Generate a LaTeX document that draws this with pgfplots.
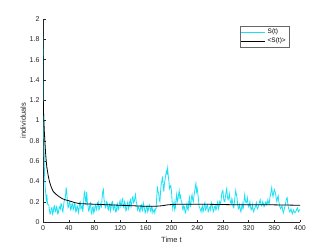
\documentclass[border=0pt]{standalone}
\usepackage{pgfplots}
\usepackage{pgfplotstable}
\pgfplotsset{compat=1.18}
\usepackage{fontspec}
\setmainfont{Liberation Sans}
\definecolor{scyan}{rgb}{0.1,0.88,0.96}
\definecolor{axgray}{rgb}{0.15,0.15,0.15}
\pgfplotstableread{
t s
0 1.83
1 1.0
2 0.55
3 0.38
4 0.3
5 0.22
6 0.27
7 0.18
8 0.17
9 0.17
10 0.12
11 0.08
12 0.09
13 0.14
14 0.14
15 0.08
16 0.1
17 0.15
18 0.16
19 0.1
20 0.11
21 0.15
22 0.13
23 0.08
24 0.09
25 0.14
26 0.15
27 0.13
28 0.18
29 0.17
30 0.12
31 0.1
32 0.16
33 0.21
34 0.22
35 0.25
36 0.34
37 0.29
38 0.2
39 0.14
40 0.15
41 0.2
42 0.19
43 0.12
44 0.13
45 0.18
46 0.18
47 0.12
48 0.14
49 0.18
50 0.17
51 0.1
52 0.11
53 0.16
54 0.15
55 0.09
56 0.12
57 0.19
58 0.2
59 0.13
60 0.14
61 0.16
62 0.1
63 0.17
64 0.28
65 0.3
66 0.22
67 0.19
68 0.3
69 0.2
70 0.16
71 0.11
72 0.12
73 0.18
74 0.19
75 0.1
76 0.08
77 0.14
78 0.15
79 0.09
80 0.11
81 0.16
82 0.17
83 0.12
84 0.14
85 0.19
86 0.2
87 0.12
88 0.13
89 0.18
90 0.16
91 0.15
92 0.24
93 0.3
94 0.32
95 0.22
96 0.2
97 0.14
98 0.15
99 0.2
100 0.19
101 0.13
102 0.12
103 0.17
104 0.18
105 0.11
106 0.14
107 0.19
108 0.2
109 0.13
110 0.12
111 0.17
112 0.16
113 0.1
114 0.1
115 0.16
116 0.18
117 0.12
118 0.13
119 0.19
120 0.21
121 0.15
122 0.16
123 0.22
124 0.23
125 0.15
126 0.14
127 0.2
128 0.18
129 0.11
130 0.12
131 0.18
132 0.2
133 0.13
134 0.15
135 0.2
136 0.22
137 0.15
138 0.18
139 0.24
140 0.25
141 0.19
142 0.2
143 0.24
144 0.27
145 0.2
146 0.18
147 0.12
148 0.14
149 0.15
150 0.11
151 0.1
152 0.16
153 0.17
154 0.12
155 0.11
156 0.19
157 0.16
158 0.13
159 0.09
160 0.11
161 0.15
162 0.16
163 0.1
164 0.12
165 0.16
166 0.17
167 0.12
168 0.1
169 0.15
170 0.14
171 0.09
172 0.11
173 0.12
174 0.09
175 0.13
176 0.13
177 0.24
178 0.35
179 0.3
180 0.28
181 0.22
182 0.2
183 0.3
184 0.38
185 0.4
186 0.45
187 0.36
188 0.3
189 0.38
190 0.42
191 0.46
192 0.5
193 0.48
194 0.53
195 0.45
196 0.4
197 0.33
198 0.35
199 0.36
200 0.3
201 0.2
202 0.13
203 0.17
204 0.2
205 0.12
206 0.14
207 0.22
208 0.27
209 0.2
210 0.22
211 0.27
212 0.31
213 0.24
214 0.26
215 0.21
216 0.2
217 0.14
218 0.12
219 0.16
220 0.15
221 0.1
222 0.09
223 0.14
224 0.18
225 0.13
226 0.12
227 0.2
228 0.24
229 0.15
230 0.16
231 0.24
232 0.27
233 0.22
234 0.2
235 0.26
236 0.3
237 0.35
238 0.38
239 0.3
240 0.33
241 0.28
242 0.22
243 0.15
244 0.14
245 0.12
246 0.1
247 0.14
248 0.16
249 0.1
250 0.12
251 0.17
252 0.19
253 0.12
254 0.13
255 0.16
256 0.17
257 0.1
258 0.11
259 0.14
260 0.15
261 0.12
262 0.19
263 0.17
264 0.14
265 0.1
266 0.12
267 0.15
268 0.16
269 0.12
270 0.13
271 0.18
272 0.2
273 0.13
274 0.15
275 0.2
276 0.18
277 0.2
278 0.27
279 0.3
280 0.31
281 0.24
282 0.2
283 0.2
284 0.25
285 0.3
286 0.33
287 0.25
288 0.22
289 0.24
290 0.28
291 0.22
292 0.19
293 0.18
294 0.23
295 0.2
296 0.15
297 0.14
298 0.2
299 0.26
300 0.31
301 0.27
302 0.24
303 0.17
304 0.13
305 0.14
306 0.17
307 0.12
308 0.1
309 0.14
310 0.18
311 0.13
312 0.14
313 0.22
314 0.27
315 0.21
316 0.19
317 0.2
318 0.24
319 0.18
320 0.15
321 0.16
322 0.2
323 0.15
324 0.12
325 0.13
326 0.17
327 0.12
328 0.1
329 0.13
330 0.14
331 0.16
332 0.19
333 0.14
334 0.13
335 0.15
336 0.17
337 0.2
338 0.22
339 0.18
340 0.16
341 0.17
342 0.2
343 0.18
344 0.15
345 0.16
346 0.19
347 0.2
348 0.17
349 0.18
350 0.22
351 0.19
352 0.18
353 0.23
354 0.27
355 0.3
356 0.34
357 0.28
358 0.25
359 0.29
360 0.32
361 0.3
362 0.28
363 0.23
364 0.2
365 0.24
366 0.26
367 0.2
368 0.17
369 0.14
370 0.13
371 0.15
372 0.16
373 0.12
374 0.09
375 0.11
376 0.14
377 0.17
378 0.2
379 0.23
380 0.24
381 0.18
382 0.14
383 0.12
384 0.1
385 0.11
386 0.13
387 0.1
388 0.08
389 0.1
390 0.12
391 0.1
392 0.09
393 0.1
394 0.11
395 0.13
396 0.14
397 0.11
398 0.1
399 0.12
400 0.12
}\sdata
\pgfplotstableread{
t m
0 1.83
0.5 1.2
1 1.05
2 0.9
3 0.79
4 0.68
5 0.6
6 0.54
8 0.46
10 0.4
13 0.34
16 0.3
20 0.275
25 0.25
30 0.23
35 0.218
40 0.21
45 0.2
50 0.19
58 0.18
70 0.178
80 0.175
100 0.17
120 0.165
140 0.16
160 0.155
175 0.155
185 0.16
195 0.17
210 0.175
250 0.175
300 0.17
350 0.17
400 0.165
}\mdata
\begin{document}
\begin{tikzpicture}
\begin{axis}[
  scale only axis, width=257pt, height=203pt,
  xmin=0, xmax=400, ymin=0, ymax=2,
  xtick={0,40,...,400}, ytick={0,0.2,...,2},
  yticklabels={0,0.2,0.4,0.6,0.8,1,1.2,1.4,1.6,1.8,2},
  axis lines=left, axis line style={-, axgray, line width=0.4pt},
  tick align=inside, tick style={axgray, line width=0.4pt}, major tick length=2.5pt,
  /pgf/number format/assume math mode=true,
  tick label style={font=\fontsize{7}{8}\selectfont, text=axgray},
  xlabel={Time t}, ylabel={individuals},
  label style={font=\fontsize{7.5}{8.5}\selectfont, text=axgray},
  ylabel style={yshift=-3pt},
  legend style={at={(0.957,0.966)}, anchor=north east, font=\fontsize{6.5}{7.5}\selectfont, draw=axgray!70, line width=0.4pt, inner sep=1pt, row sep=-1.5pt},
  legend cell align=left,
  legend image post style={line width=0.8pt},
  legend image code/.code={\draw[#1] (0cm,0cm) -- (0.85cm,0cm);},
]
\addplot[scyan, line width=0.8pt] table[x=t, y=s] {\sdata};
\addlegendentry{S(t)}
\addplot[black, line width=0.8pt] table[x=t, y=m] {\mdata};
\addlegendentry{<S(t)>}
\end{axis}
\pgfresetboundingbox
\path ([shift={(-43pt,-27pt)}]current axis.south west) rectangle ([shift={(32pt,19pt)}]current axis.north east);
\end{tikzpicture}
\end{document}
